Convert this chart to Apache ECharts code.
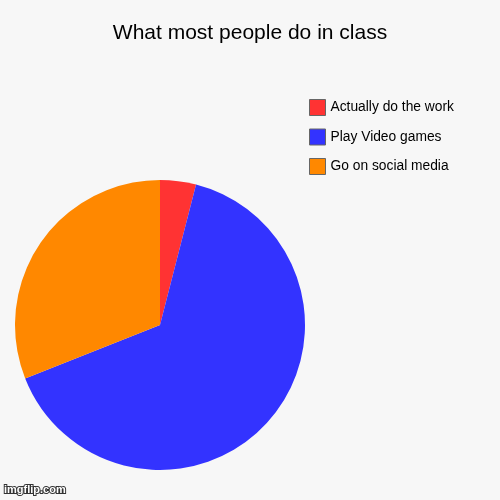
<!DOCTYPE html>
<html>
<head>
<meta charset="utf-8">
<script src="https://cdn.jsdelivr.net/npm/echarts@6/dist/echarts.min.js"></script>
<style>
html,body{margin:0;padding:0;background:#f7f7f7;}
#chart{width:500px;height:500px;}
</style>
</head>
<body>
<div id="chart"></div>
<script>
const titleText = 'What most people do in class';
const categories = ['Actually do the work', 'Play Video games', 'Go on social media'];
const values = [4, 65, 31];
const colors = ['#ff3333', '#3333ff', '#ff8800'];

const chart = echarts.init(document.getElementById('chart'), null, {renderer: 'canvas'});
chart.setOption({
  backgroundColor: '#f7f7f7',
  animation: false,
  title: {
    text: titleText,
    left: 'center',
    top: 18,
    textStyle: {fontFamily: 'Liberation Sans, Arial, sans-serif', fontSize: 21, fontWeight: 'normal', color: '#000'}
  },
  legend: {
    orient: 'vertical',
    left: 309,
    top: 99,
    padding: 0,
    itemWidth: 16,
    itemHeight: 16,
    itemGap: 12.5,
    icon: 'rect',
    data: categories,
    itemStyle: {borderColor: '#666', borderWidth: 1},
    textStyle: {fontFamily: 'Liberation Sans, Arial, sans-serif', fontSize: 13.8, color: '#000'}
  },
  graphic: [{
    type: 'text',
    left: 3,
    top: 483,
    style: {text: 'imgflip.com', fontFamily: 'Liberation Sans, Arial, sans-serif', fontSize: 11, fontWeight: 'bold', fill: '#fff', stroke: '#333', lineWidth: 2}
  }],
  series: [{
    type: 'pie',
    center: [160, 325],
    radius: 145,
    startAngle: 90,
    clockwise: true,
    label: {show: false},
    labelLine: {show: false},
    emphasis: {disabled: true},
    itemStyle: {borderWidth: 0},
    data: categories.map((c, i) => ({name: c, value: values[i], itemStyle: {color: colors[i]}}))
  }]
});
</script>
</body>
</html>
